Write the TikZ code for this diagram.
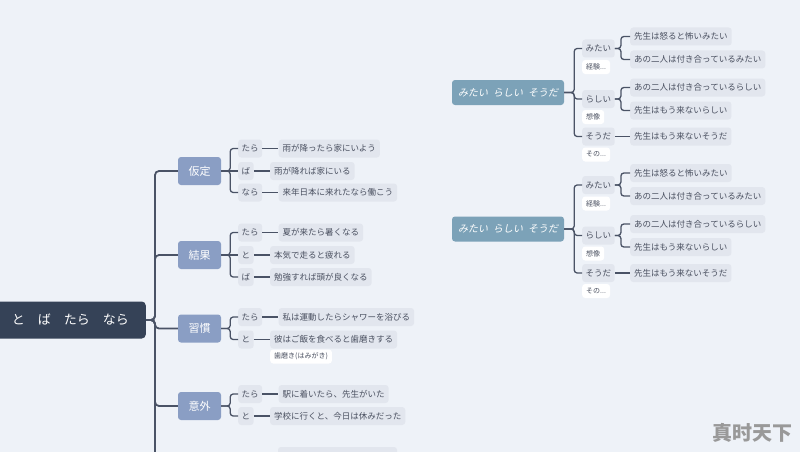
\documentclass[tikz,border=0pt]{standalone}
\usepackage{fontspec}
\setmainfont{Noto Sans CJK JP}
\newfontfamily\slantjp[FakeSlant=0.2]{Noto Sans CJK JP}
\newfontfamily\markfont{Noto Sans CJK SC}
\usetikzlibrary{positioning}
\definecolor{pagebg}{HTML}{EEF2F8}
\definecolor{rootnavy}{HTML}{354257}
\definecolor{topicblue}{HTML}{8A9EC4}
\definecolor{sideblue}{HTML}{7CA2B8}
\definecolor{chipgray}{HTML}{E2E6EE}
\definecolor{linkgray}{HTML}{4A5366}
\definecolor{inkgray}{HTML}{4A5060}

\tikzset{
  rootbox/.style={fill=rootnavy, text=white, rounded corners=4pt, minimum height=37pt,
    inner xsep=17pt, font=\fontsize{13}{13}\selectfont},
  topicbox/.style={fill=topicblue, text=white, rounded corners=3pt, minimum width=43pt,
    minimum height=28pt, font=\fontsize{11}{11}\selectfont},
  sidebox/.style={fill=sideblue, text=white, rounded corners=3pt, minimum width=112pt,
    minimum height=25pt, font=\slantjp\fontsize{10}{10}\selectfont},
  tagbox/.style={fill=chipgray, text=inkgray, rounded corners=3pt, inner xsep=3.5pt,
    minimum height=18pt, font=\fontsize{8.5}{8.5}\selectfont},
  exbox/.style={tagbox, inner xsep=4pt},
  notebox/.style={fill=white, text=inkgray, rounded corners=3pt, inner xsep=4pt,
    minimum height=14pt, font=\fontsize{7}{7}\selectfont},
  trunk/.style={draw=linkgray, line width=1.8pt, rounded corners=4pt},
  link/.style={draw=linkgray, line width=1.3pt, rounded corners=3pt}
}

\begin{document}
\begin{tikzpicture}[x=1pt, y=-1pt]
\fill[pagebg] (0,0) rectangle (800,452);
\useasboundingbox (0,0) rectangle (800,452);
\clip (0,0) rectangle (800,452);

% root and the four topics
\node[rootbox, anchor=east] (root) at (146,320) {と\quad ば\quad たら\quad なら};
\node[topicbox] (katei) at (199.5,171) {仮定};
\node[topicbox] (kekka) at (199.5,255) {結果};
\node[topicbox] (shukan) at (199.5,328.5) {習慣};
\node[topicbox] (igai) at (199.5,406) {意外};
\coordinate (trunkend) at (155,470);

\draw[trunk] (root.east) -| (trunkend);
\foreach \t in {katei,kekka,shukan,igai}
  \draw[trunk] (root.east) -- ++(9,0) |- (\t.west);

% 仮定
\node[tagbox, anchor=west] (ka1) at (238,148.5) {たら};
\node[tagbox, anchor=west] (ka2) at (238,171) {ば};
\node[tagbox, anchor=west] (ka3) at (238,192.5) {なら};
\node[exbox, right=16pt of ka1] (ka1x) {雨が降ったら家にいよう};
\node[exbox, right=16pt of ka2] (ka2x) {雨が降れば家にいる};
\node[exbox, right=16pt of ka3] (ka3x) {来年日本に来れたなら働こう};

% 結果
\node[tagbox, anchor=west] (ke1) at (238,232.5) {たら};
\node[tagbox, anchor=west] (ke2) at (238,255) {と};
\node[tagbox, anchor=west] (ke3) at (238,277) {ば};
\node[exbox, right=16pt of ke1] (ke1x) {夏が来たら暑くなる};
\node[exbox, right=16pt of ke2] (ke2x) {本気で走ると疲れる};
\node[exbox, right=16pt of ke3] (ke3x) {勉強すれば頭が良くなる};

% 習慣
\node[tagbox, anchor=west] (sh1) at (238,317) {たら};
\node[tagbox, anchor=west] (sh2) at (238,339.5) {と};
\node[exbox, right=16pt of sh1] (sh1x) {私は運動したらシャワーを浴びる};
\node[exbox, right=16pt of sh2] (sh2x) {彼はご飯を食べると歯磨きする};
\node[notebox, anchor=west] (sh2n) at (270,356.5) {歯磨き(はみがき)};

% 意外
\node[tagbox, anchor=west] (ig1) at (238,394) {たら};
\node[tagbox, anchor=west] (ig2) at (238,416) {と};
\node[exbox, right=16pt of ig1] (ig1x) {駅に着いたら、先生がいた};
\node[exbox, right=16pt of ig2] (ig2x) {学校に行くと、今日は休みだった};

\foreach \p/\c in {katei/ka1,katei/ka3,kekka/ke1,kekka/ke3,
    shukan/sh1,shukan/sh2,igai/ig1,igai/ig2}
  \draw[link] (\p.east) -- ++(9,0) |- (\c.west);
\draw[link] (katei.east) -- (ka2.west);
\draw[link] (kekka.east) -- (ke2.west);
\foreach \c in {ka1,ka2,ka3,ke1,ke2,ke3,sh1,sh2,ig1,ig2}
  \draw[link] (\c.east) -- (\c x.west);

% next topic, cut off by the page edge
\fill[chipgray, rounded corners=3pt] (278,447) rectangle (397,470);

% the two right-hand clusters
\foreach \k/\cy in {a/92.5,b/229}{
  \node[sidebox] (m\k) at (508,\cy) {みたい\enspace らしい\enspace そうだ};
  \node[tagbox, anchor=west] (m\k1) at (582,\cy-44) {みたい};
  \node[tagbox, anchor=west] (m\k2) at (582,\cy+6.5) {らしい};
  \node[tagbox, anchor=west] (m\k3) at (582,\cy+44) {そうだ};
  \node[notebox, anchor=west] (m\k1n) at (582,\cy-25.5) {経験...};
  \node[notebox, anchor=west] (m\k2n) at (582,\cy+24.5) {想像};
  \node[notebox, anchor=west] (m\k3n) at (582,\cy+62) {その...};
  \node[exbox, anchor=west] (m\k1a) at (630,\cy-56) {先生は怒ると怖いみたい};
  \node[exbox, anchor=west] (m\k1b) at (630,\cy-33) {あの二人は付き合っているみたい};
  \node[exbox, anchor=west] (m\k2a) at (630,\cy-5) {あの二人は付き合っているらしい};
  \node[exbox, anchor=west] (m\k2b) at (630,\cy+18) {先生はもう来ないらしい};
  \node[exbox, anchor=west] (m\k3a) at (630,\cy+44) {先生はもう来ないそうだ};
  \foreach \c in {1,2,3}
    \draw[link] (m\k.east) -- ++(10,0) |- (m\k\c.west);
  \foreach \c/\x in {1/a,1/b,2/a,2/b}
    \draw[link] (m\k\c.east) -- ++(6,0) |- (m\k\c\x.west);
  \draw[link] (m\k3.east) -- (m\k3a.west);
}

\node[font=\markfont\bfseries\fontsize{20}{20}\selectfont, text=black!40] (mark) at (752,433) {真时天下};
\end{tikzpicture}
\end{document}
